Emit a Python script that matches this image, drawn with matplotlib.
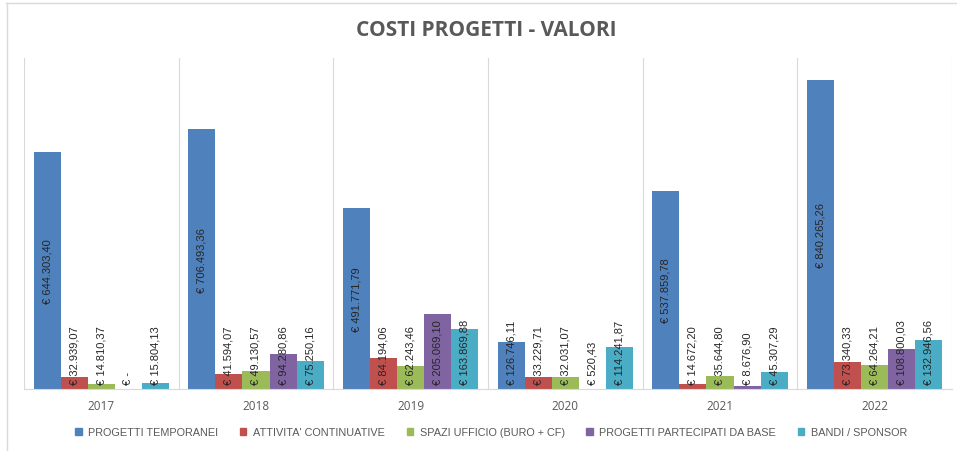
import matplotlib
matplotlib.use("Agg")
import matplotlib.pyplot as plt
from matplotlib.lines import Line2D
import numpy as np

years = ["2017", "2018", "2019", "2020", "2021", "2022"]
series_names = ["PROGETTI TEMPORANEI", "ATTIVITA' CONTINUATIVE", "SPAZI UFFICIO (BURO + CF)",
                "PROGETTI PARTECIPATI DA BASE", "BANDI / SPONSOR"]
progetti_temporanei = [644303.40, 706493.36, 491771.79, 126746.11, 537859.78, 840265.26]
attivita_continuative = [32939.07, 41594.07, 84194.06, 33229.71, 14672.20, 73340.33]
spazi_ufficio = [14810.37, 49130.57, 62243.46, 32031.07, 35644.80, 64264.21]
progetti_partecipati = [0.0, 94280.86, 205069.10, 520.43, 8676.90, 108800.03]
bandi_sponsor = [15804.13, 75250.16, 163869.88, 114241.87, 45307.29, 132946.56]
colors = ["#4F81BD", "#C0504D", "#9BBB59", "#8064A2", "#4BACC6"]

all_series = [progetti_temporanei, attivita_continuative, spazi_ufficio,
              progetti_partecipati, bandi_sponsor]

FONT = ["Liberation Sans Narrow", "Liberation Sans", "DejaVu Sans"]
plt.rcParams["font.family"] = FONT

def fmt(v):
    if v == 0:
        return "€ -"
    s = f"{v:,.2f}"
    s = s.replace(",", "X").replace(".", ",").replace("X", ".")
    return "€ " + s

W, H = 957, 452
fig = plt.figure(figsize=(W / 100, H / 100), dpi=100)
ax = fig.add_axes([24 / W, (H - 390) / H, (952 - 24) / W, (390 - 59) / H])

ymax = 900000
ax.set_xlim(-0.5, 5.5)
ax.set_ylim(0, ymax)
x = np.arange(len(years))
bw = 0.175

texts = []
for i, (vals, c) in enumerate(zip(all_series, colors)):
    xs = x + (i - 2) * bw
    ax.bar(xs, vals, width=bw, color=c, label=series_names[i], zorder=2)
    for xi, v in zip(xs, vals):
        t = ax.text(xi, v / 2, fmt(v), rotation=90, ha="center", va="center",
                    fontsize=8, color="#262626", zorder=3)
        texts.append((t, xi, v))

# category separators
for b in np.arange(-0.5, 6.0, 1.0):
    ax.axvline(b, color="#D9D9D9", lw=0.8, zorder=1)

for s in ["top", "right", "left"]:
    ax.spines[s].set_visible(False)
ax.spines["bottom"].set_color("#D9D9D9")
ax.set_yticks([])
ax.set_xticks(x)
ax.set_xticklabels(years, fontsize=8.5, color="#595959",
                   family=["Open Sans", "DejaVu Sans"])
ax.tick_params(axis="x", length=0, pad=7)

fig.text(486 / W, 1 - 30 / H, "COSTI PROGETTI - VALORI", ha="center", va="center",
         fontsize=15, fontweight="bold", color="#595959",
         family=["Open Sans", "DejaVu Sans"])

# outer frame lines
fig.add_artist(Line2D([6 / W, 1], [1 - 4 / H, 1 - 4 / H], color="#D9D9D9", lw=1))
fig.add_artist(Line2D([7 / W, 7 / W], [0, 1 - 4 / H], color="#D9D9D9", lw=1))

handles = [plt.Rectangle((0, 0), 1, 1, color=c) for c in colors]
leg = fig.legend(handles, series_names, loc="center", bbox_to_anchor=(491 / W, (H - 433) / H),
                 ncol=5, frameon=False, fontsize=7.8, handlelength=0.6, handleheight=0.6,
                 handletextpad=0.6, columnspacing=2.0)
for t in leg.get_texts():
    t.set_color("#595959")

# adjust labels that don't fit in bar center
fig.canvas.draw()
r = fig.canvas.get_renderer()
px_per_unit = ax.transData.transform((0, 1))[1] - ax.transData.transform((0, 0))[1]
pad = 5 / px_per_unit
for t, xi, v in texts:
    bb = t.get_window_extent(renderer=r)
    hdata = bb.height / px_per_unit
    if v / 2 - hdata / 2 < pad:
        t.set_y(pad + hdata / 2)

fig.savefig("out.png", dpi=100, facecolor="white")
